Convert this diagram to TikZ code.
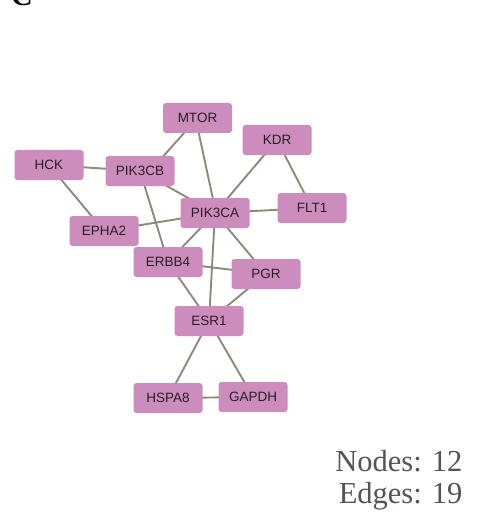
\documentclass[tikz,border=0pt]{standalone}
\usepackage{fontspec}
\setmainfont{Liberation Serif}
\newfontfamily\nodefont{Liberation Sans}
\usetikzlibrary{backgrounds}
\begin{document}
\begin{tikzpicture}[x=1pt,y=-1pt,
  gene/.style={draw=none,fill=genefill,rounded corners=3pt,minimum width=69pt,minimum height=30pt,inner sep=0pt,font=\nodefont\fontsize{13.5}{13.5}\selectfont,text=genetext},
  link/.style={draw=edgecol,line width=1.9pt},
  lab/.style={anchor=base east,font=\fontsize{30.5}{32}\selectfont,text=labcol}]
\definecolor{genefill}{RGB}{204,141,189}
\definecolor{genetext}{RGB}{40,30,40}
\definecolor{edgecol}{RGB}{145,136,124}
\definecolor{labcol}{RGB}{88,82,80}
\useasboundingbox (0,0) rectangle (478,513);
\node[anchor=base,font=\fontsize{30}{30}\selectfont\bfseries] (panel) at (22,6) {C};
\node[gene] (MTOR) at (197.5,118) {MTOR};
\node[gene] (KDR) at (277,140) {KDR};
\node[gene] (HCK) at (49,165) {HCK};
\node[gene] (PIK3CB) at (140,171) {PIK3CB};
\node[gene] (PIK3CA) at (215,213) {PIK3CA};
\node[gene] (FLT1) at (312,208) {FLT1};
\node[gene] (EPHA2) at (104,231) {EPHA2};
\node[gene] (ERBB4) at (168,262) {ERBB4};
\node[gene] (PGR) at (266,274) {PGR};
\node[gene] (ESR1) at (209,321) {ESR1};
\node[gene] (HSPA8) at (168,398) {HSPA8};
\node[gene] (GAPDH) at (253,397) {GAPDH};
\begin{scope}[on background layer]
\draw[link] (MTOR.center) -- ([xshift=10pt]PIK3CB.center);
\draw[link] ([xshift=-2pt]MTOR.center) -- ([xshift=1pt]PIK3CA.center);
\draw[link] (HCK.center) -- (PIK3CB.center);
\draw[link] (HCK.center) -- (EPHA2.center);
\draw[link] (PIK3CB.center) -- (PIK3CA.center);
\draw[link] (PIK3CB.center) -- (ERBB4.center);
\draw[link] (EPHA2.center) -- (PIK3CA.center);
\draw[link] (KDR.center) -- (PIK3CA.center);
\draw[link] (KDR.center) -- (FLT1.center);
\draw[link] (PIK3CA.center) -- (FLT1.center);
\draw[link] (PIK3CA.center) -- (ERBB4.center);
\draw[link] (PIK3CA.center) -- (ESR1.center);
\draw[link] (PIK3CA.center) -- (PGR.center);
\draw[link] (ERBB4.center) -- (PGR.center);
\draw[link] (ERBB4.center) -- (ESR1.center);
\draw[link] (PGR.center) -- (ESR1.center);
\draw[link] (ESR1.center) -- (HSPA8.center);
\draw[link] (ESR1.center) -- (GAPDH.center);
\draw[link] (HSPA8.center) -- (GAPDH.center);
\end{scope}
\node[lab] (nodes) at (466,471) {Nodes: 12};
\node[lab] (edges) at (466,503) {Edges: 19};
\end{tikzpicture}
\end{document}
